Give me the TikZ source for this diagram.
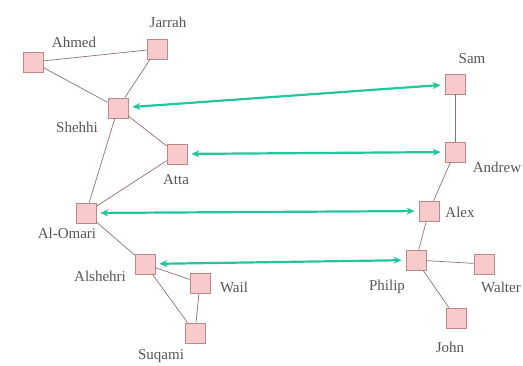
\documentclass[tikz,border=0pt]{standalone}
\usepackage{fontspec}
\setmainfont{Liberation Serif}
\usetikzlibrary{arrows.meta}
\definecolor{BoxFill}{RGB}{248,202,204}
\definecolor{BoxLine}{RGB}{190,136,136}
\definecolor{TieLine}{RGB}{140,115,115}
\definecolor{LinkGreen}{RGB}{36,196,156}
\definecolor{LabelGrey}{RGB}{85,85,85}
\tikzset{
  graph style/.style={
    x=1pt, y=-1pt,
    every label/.style={text=LabelGrey, font=\fontsize{15}{16}\selectfont,
      inner sep=0pt, anchor=center},
  },
  actor/.style={
    draw=BoxLine, fill=BoxFill, line width=0.7pt,
    rectangle, inner sep=0pt, minimum size=20pt
  },
  tie/.style={
    draw=TieLine, line width=0.7pt,
  },
  match/.style={
    draw=LinkGreen, line width=2.2pt,
    {Stealth[length=8pt,width=7pt]}-{Stealth[length=8pt,width=7pt]},
    shorten <=4pt, shorten >=4pt,
  },
}

\begin{document}
\begin{tikzpicture}[graph style]
  \useasboundingbox (0,0) rectangle (523,366);
  % left network
  \node[actor, label={[shift={(41,-20)}]center:Ahmed}] (ahmed) at (33,62) {};
  \node[actor, label={[shift={(11,-27)}]center:Jarrah}] (jarrah) at (157,49) {};
  \node[actor, label={[shift={(-41,19)}]center:Shehhi}] (shehhi) at (118,108) {};
  \node[actor, label={[shift={(-1,26)}]center:Atta}] (atta) at (177,154) {};
  \node[actor, label={[shift={(-19,20)}]center:Al-Omari}] (omari) at (86,213) {};
  \node[actor, label={[shift={(-45,12)}]center:Alshehri}] (alshehri) at (145,264) {};
  \node[actor, label={[shift={(34,4)}]center:Wail}] (wail) at (200,283) {};
  \node[actor, label={[shift={(-34,23)}]center:Suqami}] (suqami) at (195,333) {};
  % right network
  \node[actor, label={[shift={(17,-25)}]center:Sam}] (sam) at (455,84) {};
  \node[actor, label={[shift={(42,15)}]center:Andrew}] (andrew) at (455,152) {};
  \node[actor, label={[shift={(31,1)}]center:Alex}] (alex) at (429,211) {};
  \node[actor, label={[shift={(-29,27)}]center:Philip}] (philip) at (416,260) {};
  \node[actor, label={[shift={(17,23)}]center:Walter}] (walter) at (484,264) {};
  \node[actor, label={[shift={(-6,29)}]center:John}] (john) at (456,318) {};
  % ties
  \draw[tie] (ahmed) -- (jarrah);
  \draw[tie] (ahmed) -- (shehhi);
  \draw[tie] (jarrah) -- (shehhi);
  \draw[tie] (shehhi) -- (atta);
  \draw[tie] (shehhi) -- (omari);
  \draw[tie] (atta) -- (omari);
  \draw[tie] (omari) -- (alshehri);
  \draw[tie] (alshehri) -- (wail);
  \draw[tie] (alshehri) -- (suqami);
  \draw[tie] (wail) -- (suqami);
  \draw[tie] (sam) -- (andrew);
  \draw[tie] (andrew) -- (alex);
  \draw[tie] (alex) -- (philip);
  \draw[tie] (philip) -- (walter);
  \draw[tie] (philip) -- (john);
  % matches
  \draw[match] (shehhi) -- (sam);
  \draw[match] (atta) -- (andrew);
  \draw[match] (omari) -- (alex);
  \draw[match] (alshehri) -- (philip);
\end{tikzpicture}
\end{document}
